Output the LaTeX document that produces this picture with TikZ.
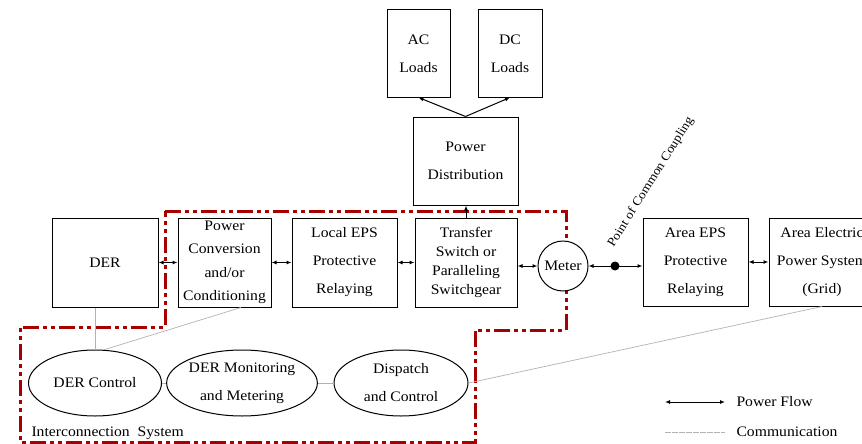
\documentclass[tikz,border=0pt]{standalone}
\usepackage{fontspec}
\setmainfont{Liberation Serif}[FakeStretch=1.08]
\usetikzlibrary{arrows.meta,shapes.geometric}

\begin{document}
\begin{tikzpicture}[x=1pt,y=-1pt,
    block/.style={draw,line width=1pt,fill=white,rectangle,align=center,inner sep=0pt,font=\fontsize{14.5}{28}\selectfont},
    func/.style={draw,line width=1pt,fill=white,ellipse,align=center,inner sep=0pt,font=\fontsize{14.5}{28}\selectfont},
    pflow/.style={line width=1pt,{Latex[length=5pt,width=4pt]}-{Latex[length=5pt,width=4pt]}},
    pfeed/.style={line width=1pt,-{Latex[length=5pt,width=4pt]}},
    comm/.style={draw=gray!60,line width=0.7pt},
    border/.style={draw=red!65!black,line width=3pt,dash pattern=on 16pt off 4pt on 4pt off 4pt on 4pt off 4pt}
    ]
  \useasboundingbox (0,0) rectangle (862,444);
  \clip (0,0) rectangle (862,444);

  % interconnection system boundary
  \draw[border] (165,211) -- (566,211) -- (566,330) -- (475,330) -- (475,442) -- (20,442) -- (20,327) -- (165,327) -- cycle;
  \node(icsName) [anchor=west,font=\fontsize{14.5}{17}\selectfont] at (28,433) {Interconnection\ \ System};

  % loads and distribution
  \node(acLoads) [block,minimum width=63pt,minimum height=87pt] at (418.5,53.5) {AC\\Loads};
  \node(dcLoads) [block,minimum width=64pt,minimum height=87pt] at (510,53.5) {DC\\Loads};
  \node(powerDist) [block,minimum width=105pt,minimum height=88pt] at (465.5,161) {Power\\Distribution};

  % main chain
  \node(der) [block,minimum width=106pt,minimum height=89pt] at (105,262.5) {DER};
  \node(pcConv) [block,minimum width=93pt,minimum height=89pt,font=\fontsize{14.5}{23.5}\selectfont] at (224.5,262.5) {Power\\Conversion\\and/or\\Conditioning};
  \node(localEps) [block,minimum width=105pt,minimum height=89pt] at (344.5,262.5) {Local EPS\\Protective\\Relaying};
  \node(transfer) [block,minimum width=102pt,minimum height=89pt,font=\fontsize{14.5}{19}\selectfont] at (466,262.5) {Transfer\\Switch or\\Paralleling\\Switchgear};
  \node(meter) [circle,draw,line width=1pt,fill=white,minimum size=50pt,inner sep=0pt,font=\fontsize{14.5}{17}\selectfont] at (563,266) {Meter};
  \node(areaEps) [block,minimum width=105pt,minimum height=88pt] at (695.5,262) {Area EPS\\Protective\\Relaying};
  \node(grid) [block,minimum width=106pt,minimum height=88pt] at (822,262) {Area Electric\\Power System\\(Grid)};

  % point of common coupling
  \node(pcc) [circle,fill=black,minimum size=9pt,inner sep=0pt] at (615,266) {};
  \node(pccName) [rotate=58,font=\fontsize{12.5}{15}\selectfont] at (651,182) {Point of Common Coupling};

  % control functions
  \node(derCtrl) [func,minimum width=133pt,minimum height=66pt] at (95,383) {DER Control};
  \node(derMon) [func,minimum width=130pt,minimum height=66pt] at (242,383) {DER Monitoring\\and Metering};
  \node(dispatch) [func,minimum width=134pt,minimum height=66pt] at (401,383) {Dispatch\\and Control};

  % power flow
  \draw[pflow] (der) -- (pcConv);
  \draw[pflow] (pcConv) -- (localEps);
  \draw[pflow] (localEps) -- (transfer);
  \draw[pflow] (transfer.east |- meter) -- (meter);
  \draw[pflow] (meter) -- (areaEps.west |- meter);
  \draw[pflow] (areaEps) -- (grid);
  \draw[pfeed] (transfer.north) -- (transfer.north |- powerDist.south);
  \draw[pfeed] (powerDist.north) -- (acLoads.south);
  \draw[pfeed] (powerDist.north) -- (dcLoads.south);

  % communication
  \draw[comm] (derCtrl.north |- der.south) -- (derCtrl.north);
  \draw[comm] (pcConv.-70) -- (derCtrl.75);
  \draw[comm] (derCtrl) -- (derMon);
  \draw[comm] (derMon) -- (dispatch);
  \draw[comm] (dispatch.east) -- (grid.south);

  % legend
  \coordinate(pfA) at (665,402);
  \coordinate(pfB) at (725,402);
  \coordinate(cmA) at (665,432);
  \coordinate(cmB) at (725,432);
  \draw[pflow] (pfA) -- (pfB);
  \draw[comm,dash pattern=on 6pt off 1pt] (cmA) -- (cmB);
  \node(pfName) [anchor=west,font=\fontsize{14.5}{17}\selectfont] at (733,402) {Power Flow};
  \node(cmName) [anchor=west,font=\fontsize{14.5}{17}\selectfont] at (733,432) {Communication};

\end{tikzpicture}
\end{document}
